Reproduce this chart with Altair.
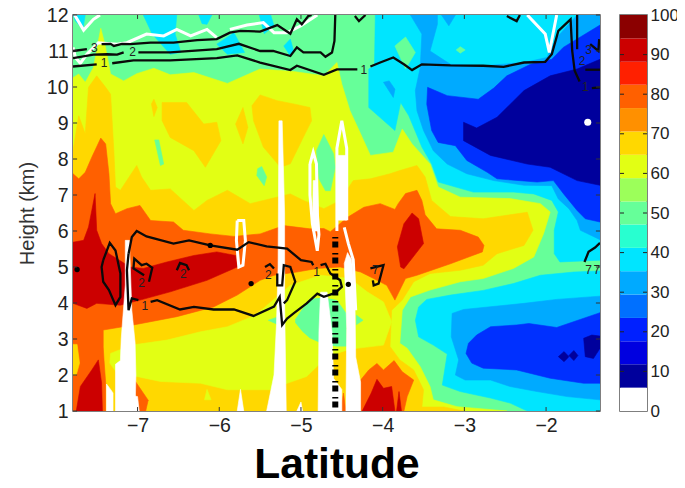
import altair as alt
import pandas as pd

LAT_MIN, LAT_MAX = -7.79, -1.34
H_MIN, H_MAX = 1, 12
LAT_TICKS = [-7, -6, -5, -4, -3, -2]
H_TICKS = list(range(1, 13))

C_RED = "#cc0000"; C_ORANGE = "#ff6000"; C_GOLD = "#ffd800"; C_YELLOW = "#e2ff14"
C_GREEN = "#66ff99"; C_CYAN = "#00e5ff"; C_SKY = "#00aaff"; C_BLUE = "#0030ff"; C_NAVY = "#00009c"

base = [(LAT_MIN, 1), (LAT_MAX, 1), (LAT_MAX, 12), (LAT_MIN, 12)]
cyan_upper = [(-4.09,12),(-4.10,10.59),(-4.17,10.5),(-4.17,9.43),(-3.85,8.79),(-3.78,9.57),(-3.68,9.2),(-3.52,8.33),(-3.40,7.86),(-3.32,7.36),(-2.89,7.08),(-2.4,7.08),(-2.15,7.03),(-1.93,6.85),(-1.85,6.53),(-1.90,6.02),(-1.90,5.37),(-1.83,5.14),(-1.34,5.19),(-1.34,12)]
cyan_lower = [(-1.34,4.89),(-1.66,4.86),(-2.07,4.77),(-2.4,4.54),(-2.77,4.35),(-3.17,4.22),(-3.46,4.1),(-3.56,3.89),(-3.60,3.52),(-3.56,3.06),(-3.38,2.83),(-3.21,2.58),(-3.27,1.72),(-3.05,1.54),(-2.68,1.36),(-2.44,1.22),(-2.23,1.0),(-1.34,1)]
sky_upper = [(-3.66,12),(-3.52,11.47),(-3.54,10.54),(-3.60,9.9),(-3.58,9.34),(-3.50,8.79),(-3.38,8.23),(-3.21,7.86),(-2.97,7.59),(-2.64,7.40),(-2.27,7.27),(-1.93,7.26),(-1.85,6.89),(-1.72,6.62),(-1.62,6.29),(-1.58,6.02),(-1.34,5.76),(-1.34,12),(-1.62,12),(-1.87,11.37),(-1.99,10.82),(-2.27,10.68),(-2.76,10.59),(-3.17,10.63),(-3.42,11.0),(-3.33,11.74),(-3.33,12)]
sky_top = [(-3.28,12),(-3.19,11.7),(-3.11,12)]
sky_blob = [(-3.99,10.13),(-3.92,10.17),(-3.85,9.94),(-3.87,9.71)]
green_blob_a = [(-3.85,11.14),(-3.72,11.39),(-3.6,10.96),(-3.72,10.5)]
green_blob_b = [(-3.10,11.03),(-3.05,11.12),(-2.99,11.03),(-3.05,10.94)]
blue_upper = [(-3.45,9.99),(-3.46,9.52),(-3.40,8.79),(-3.32,8.46),(-3.11,8.37),(-2.97,7.96),(-2.72,7.63),(-2.60,7.45),(-2.11,7.36),(-1.91,7.4),(-1.785,7.03),(-1.62,6.57),(-1.52,6.34),(-1.34,6.25),(-1.34,11.72),(-1.79,11.1),(-1.93,10.77),(-2.19,10.63),(-2.48,10.31),(-2.64,9.97),(-2.83,9.66),(-3.21,9.76)]
navy_upper = [(-3.01,9.02),(-3.01,8.51),(-2.68,8.1),(-2.23,7.86),(-1.95,7.77),(-1.62,7.4),(-1.34,7.27),(-1.34,10.77),(-1.62,10.5),(-1.95,10.31),(-2.27,9.9),(-2.48,9.43),(-2.6,9.16),(-2.85,8.86)]
sky_lower = [(-3.15,3.71),(-3.01,3.82),(-2.27,3.99),(-1.87,4.1),(-1.34,4.19),(-1.34,1.31),(-1.74,1.4),(-2.11,1.54),(-2.44,1.68),(-2.68,1.86),(-2.99,1.86),(-3.11,2.0),(-3.07,2.42),(-3.16,3.06)]
blue_lower = [(-2.95,2.88),(-2.85,3.11),(-2.68,3.34),(-2.36,3.39),(-2.21,3.43),(-1.87,3.32),(-1.34,3.73),(-1.34,1.77),(-1.54,1.77),(-1.95,1.91),(-2.36,2.14),(-2.77,2.19),(-2.91,2.33),(-2.98,2.6)]
navy_a = [(-1.85,2.51),(-1.78,2.65),(-1.72,2.51),(-1.78,2.37)]
navy_b = [(-1.72,2.54),(-1.66,2.68),(-1.61,2.54),(-1.66,2.4)]
navy_c = [(-1.54,3.02),(-1.44,3.11),(-1.34,3.08),(-1.34,2.74),(-1.42,2.46),(-1.52,2.51)]
cyan_a = [(-7.79,12),(-7.64,12),(-7.67,11.6),(-7.76,11.83)]
cyan_b = [(-6.93,12),(-6.52,12),(-6.54,11.47),(-6.47,10.96),(-6.6,10.91),(-6.82,11.47)]
cyan_c = [(-6.25,12),(-6.09,12),(-6.15,11.74),(-6.21,11.76)]
cyan_d = [(-6.03,11.19),(-5.82,11.51),(-5.69,10.96),(-5.9,10.91)]
cyan_e = [(-5.51,12),(-5.37,12),(-5.33,11.7),(-5.45,11.48)]
cyan_f = [(-5.21,11.14),(-5.13,11.33),(-5.09,11.0),(-5.13,10.86)]
yellow_main = [(-7.79,10.26),(-7.72,10.36),(-7.64,10.13),(-7.54,10.54),(-7.45,11.63),(-7.40,11.19),(-7.33,10.36),(-7.17,10.17),(-7.01,10.37),(-6.80,10.52),(-6.6,10.34),(-6.31,10.4),(-5.9,10.1),(-5.5,10.5),(-5.09,10.43),(-4.72,10.31),(-4.56,10.68),(-4.5,10.08),(-4.4,9.34),(-4.27,8.7),(-4.15,8.1),(-3.87,8.19),(-3.76,8.83),(-3.64,8.42),(-3.42,7.86),(-3.32,7.22),(-3.05,6.94),(-2.44,6.9),(-2.07,6.76),(-1.95,6.53),(-2.03,5.93),(-2.15,5.28),(-2.4,4.96),(-2.77,4.68),(-3.05,4.59),(-3.42,4.36),(-3.66,4.17),(-3.76,3.8),(-3.79,2.88),(-3.70,2.74),(-3.54,2.23),(-3.42,1.68),(-3.38,1.31),(-3.09,1.12),(-2.48,1.0),(-7.79,1)]
green_low_lat = [-5.07, -4.98, -4.89, -4.72, -4.56, -4.44]
green_low_top = [3.55, 3.85, 4.12, 4.15, 4.08, 3.7]
green_low_bottom = [3.45, 3.2, 3.02, 2.85, 2.79, 2.79]
green_low_b = [(-4.32,3.66),(-4.24,3.52),(-4.32,3.4)]
green_low_c = [(-5.4,3.52),(-5.3,3.6),(-5.3,3.42)]
green_a = [(-6.79,8.53),(-6.74,8.53),(-6.68,7.86),(-6.72,7.82)]
green_b = [(-5.53,7.73),(-5.48,7.79),(-5.42,7.5),(-5.45,7.26),(-5.54,7.54)]
green_c = [(-4.72,8.68),(-4.6,8.14),(-4.58,7.77),(-4.64,7.12),(-4.70,7.12),(-4.78,7.45),(-4.81,8.23)]
gold_main = [(-7.79,8.23),(-7.72,9.2),(-7.64,8.7),(-7.6,9.99),(-7.5,10.31),(-7.39,9.99),(-7.33,9.8),(-7.29,8.23),(-7.27,7.22),(-7.21,7.13),(-7.01,7.82),(-6.95,7.5),(-6.84,7.13),(-6.6,7.17),(-6.31,6.57),(-6.15,6.85),(-5.9,7.13),(-5.62,6.76),(-5.13,7.03),(-4.97,6.85),(-4.72,6.62),(-4.52,6.85),(-4.36,7.4),(-4.15,7.45),(-3.91,7.59),(-3.79,7.68),(-3.58,7.82),(-3.48,7.5),(-3.40,6.85),(-3.17,6.4),(-2.77,6.34),(-2.23,6.52),(-2.16,6.02),(-2.27,5.6),(-2.6,5.37),(-2.77,5.05),(-3.05,4.91),(-3.42,4.82),(-3.62,4.59),(-3.76,4.08),(-3.89,3.8),(-3.91,2.79),(-3.79,2.42),(-3.62,2.14),(-3.5,1.59),(-3.52,1.11),(-3.25,1.11),(-3.01,1.0),(-7.79,1)]
gold_a = [(-6.7,9.57),(-6.4,9.57),(-6.19,8.97),(-6.03,9.02),(-5.98,8.51),(-6.17,7.77),(-6.31,8.23),(-6.6,8.6),(-6.7,9.07)]
gold_b = [(-6.83,9.53),(-6.8,9.66),(-6.76,9.43),(-6.8,9.18)]
gold_c = [(-5.8,8.97),(-5.71,9.43),(-5.65,8.88),(-5.71,8.42)]
gold_d = [(-5.6,9.48),(-5.5,9.78),(-5.29,9.62),(-5.09,9.53),(-4.89,9.43),(-4.87,9.06),(-4.95,8.7),(-5.13,7.87),(-5.25,7.77),(-5.46,8.33),(-5.58,9.06)]
yellow_inner = [(-7.33,2.6),(-7.07,2.83),(-6.64,2.97),(-6.23,3.2),(-5.9,3.34),(-5.6,3.62),(-5.46,3.85),(-5.13,4.49),(-4.76,4.77),(-4.56,4.72),(-4.4,4.68),(-4.19,4.31),(-3.99,4.03),(-3.89,3.48),(-3.99,2.83),(-4.32,2.74),(-4.44,2.69),(-4.68,2.51),(-4.93,1.96),(-5.17,1.77),(-5.38,1.59),(-5.9,1.59),(-6.23,1.77),(-6.72,1.82),(-7.01,1.96),(-7.25,2.05),(-7.34,2.33)]
yellow_small = [(-6.15,1.6),(-6.18,1.31),(-6.10,1.31)]
orange_main = [(-7.79,7.59),(-7.72,7.45),(-7.64,7.63),(-7.56,8.05),(-7.45,8.58),(-7.39,8.42),(-7.35,7.59),(-7.33,6.76),(-7.27,6.48),(-7.13,6.62),(-6.97,6.71),(-6.84,6.29),(-6.56,6.25),(-6.44,6.02),(-6.11,5.92),(-5.82,5.85),(-5.5,5.92),(-5.21,6.15),(-4.89,6.06),(-4.72,6.07),(-4.64,5.98),(-4.43,6.38),(-4.23,6.66),(-4.03,6.76),(-3.85,6.6),(-3.81,6.76),(-3.72,7.04),(-3.58,7.13),(-3.52,6.85),(-3.48,6.45),(-3.34,6.06),(-3.05,6.02),(-2.83,5.83),(-2.76,5.6),(-2.78,5.42),(-3.17,5.09),(-3.58,4.77),(-3.72,4.68),(-3.85,4.08),(-3.95,4.49),(-4.11,4.68),(-4.27,4.86),(-4.52,5.0),(-4.8,4.96),(-5.05,4.86),(-5.33,4.77),(-5.5,4.63),(-5.78,4.22),(-6.07,3.89),(-6.52,3.62),(-7.05,3.39),(-7.42,3.25),(-7.42,2.78),(-7.41,2.4),(-7.39,1.78),(-7.39,1),(-7.79,1)]
orange_patch = [(-7.05,1.9),(-6.87,1.3),(-6.9,1.0),(-7.1,1.0)]
orange_bottom = [(-4.27,1.0),(-4.27,1.86),(-4.17,2.14),(-4.07,2.32),(-3.99,2.14),(-3.86,2.4),(-3.76,2.09),(-3.62,1.86),(-3.70,1.4),(-3.74,1.0)]
orange_sliver = [(-4.52,1),(-4.48,1.5),(-4.45,1)]
gold_patch = [(-7.79,2.85),(-7.74,2.85),(-7.71,2.33),(-7.75,2.0),(-7.79,2.0)]
red_left = [(-7.79,5.69),(-7.66,5.74),(-7.6,6.11),(-7.56,6.57),(-7.52,7.04),(-7.5,6.02),(-7.44,5.65),(-7.35,5.37),(-7.09,5.0),(-6.93,4.96),(-6.64,5.14),(-6.31,5.32),(-6.03,5.42),(-5.8,5.32),(-5.78,5.0),(-6.15,4.63),(-6.6,4.31),(-6.97,4.08),(-7.21,3.94),(-7.5,3.99),(-7.62,3.85),(-7.79,3.99)]
red_right = [(-3.64,6.5),(-3.56,6.34),(-3.5,5.65),(-3.74,4.95),(-3.78,5.0),(-3.82,5.56),(-3.74,6.2)]
red_bl = [(-7.75,1),(-7.7,1.68),(-7.56,2.14),(-7.48,2.42),(-7.44,1.78),(-7.43,1)]
red_br = [(-4.25,1.0),(-4.14,1.5),(-4.07,1.88),(-3.99,1.63),(-3.89,1.68),(-3.85,1.0)]
red_br2 = [(-3.83,1),(-3.80,1.54),(-3.77,1)]

white_a = [(-7.15,5.74),(-7.1,5.74),(-7.07,3.8),(-7.03,2.9),(-7.02,2.0),(-7.03,1),(-7.27,1),(-7.27,2.3),(-7.21,2.4),(-7.2,3.0),(-7.15,4.5)]
white_b = [(-7.05,1),(-7.04,1.42),(-7.0,1.4),(-6.98,1)]
white_c = [(-7.38,1),(-7.38,1.75),(-7.33,1.6),(-7.3,1.5),(-7.3,1)]
white_d = [(-5.27,9.06),(-5.23,9.06),(-5.2,6.5),(-5.2,4.0),(-5.18,1),(-5.42,1),(-5.33,2.0),(-5.3,3.4),(-5.28,5)]
white_e = [(-5.78,1),(-5.74,1.6),(-5.7,1)]
white_f = [(-5.05,1),(-5.0,1.25),(-4.98,1)]
white_g = [(-4.76,4.3),(-4.68,4.3),(-4.62,3.2),(-4.6,1.9),(-4.5,1.6),(-4.5,1),(-4.79,1),(-4.78,3.2)]
white_h = [(-4.47,5.1),(-4.43,5.4),(-4.38,5.2),(-4.34,4.2),(-4.33,2.5),(-4.27,1.8),(-4.27,1),(-4.45,1),(-4.44,3.3),(-4.45,4)]
white_i = [(-4.56,8.1),(-4.44,8.1),(-4.44,6.3),(-4.56,6.3)]
white_j = [(-4.85,7.4),(-4.8,7.4),(-4.78,6.0),(-4.86,6.0)]

white_loop_a = [(-5.78,6.29),(-5.7,6.29),(-5.68,5.74),(-5.71,5.05),(-5.76,5.0),(-5.79,5.74),(-5.78,6.29)]
white_loop_b = [(-4.89,7.86),(-4.85,8.19),(-4.81,7.86),(-4.8,6.5),(-4.78,5.9),(-4.8,5.45),(-4.86,6.2),(-4.89,7.0),(-4.89,7.86)]
white_loop_c = [(-4.56,6.0),(-4.56,8.3),(-4.5,9.06),(-4.44,8.3),(-4.44,6.3)]
white_loop_e = [(-4.47,6.1),(-4.42,5.65),(-4.36,5.2),(-4.33,3.8)]
white_top_a = [(-7.79,11.1),(-7.76,10.82),(-7.7,10.66),(-7.62,10.91),(-7.48,11.23),(-7.25,11.19),(-7.13,11.23),(-6.89,11.47),(-6.68,11.42),(-6.52,11.6),(-6.35,11.42),(-6.15,11.6),(-6.03,11.37)]
white_top_b = [(-5.87,11.6),(-5.66,11.72),(-5.46,11.79),(-5.33,11.51),(-5.17,11.51),(-5.0,11.7),(-4.8,12)]
white_top_c = [(-7.77,12),(-7.66,11.58),(-7.54,11.88),(-7.46,12)]
white_v = [(-2.23,12),(-2.01,11.47),(-1.96,10.96),(-1.87,12)]

c3_a = [(-7.79,11.0),(-7.62,11.05)]
c3_b = [(-7.44,11.19),(-7.33,11.2),(-7.29,11.14),(-7.19,11.2),(-7.09,11.19),(-6.84,11.23),(-6.56,11.23),(-6.27,11.3),(-6.03,11.33),(-5.87,11.51),(-5.74,11.56),(-5.5,11.54),(-5.29,11.72),(-5.13,11.48),(-5.05,11.88),(-4.99,11.74),(-4.91,11.97),(-4.87,12)]
c2_a = [(-7.79,10.8),(-7.54,10.9),(-7.37,10.91),(-7.25,10.9),(-7.17,10.96)]
c2_b = [(-6.99,10.96),(-6.6,10.96),(-6.03,11.05),(-5.76,11.2),(-5.5,11.0),(-5.34,11.0),(-5.13,10.86),(-5.05,11.1),(-4.97,10.96),(-4.76,10.96),(-4.7,10.84),(-4.62,10.96),(-4.59,11.28),(-4.58,12)]
c1_a = [(-7.79,10.57),(-7.5,10.63)]
c1_b = [(-7.31,10.66),(-7.05,10.74),(-6.6,10.74),(-6.03,10.8),(-5.78,10.88),(-5.5,10.68),(-5.13,10.47),(-5.05,10.59),(-4.72,10.34),(-4.56,10.49),(-4.31,10.49)]
c1_c = [(-4.15,10.57),(-4.03,10.68),(-3.87,10.82),(-3.74,10.63),(-3.64,10.47),(-3.52,10.63),(-3.17,10.6),(-2.77,10.59),(-2.52,10.56),(-2.27,10.68),(-2.01,10.7),(-1.93,10.91),(-1.85,11.56),(-1.7,11.88),(-1.68,11.0),(-1.65,10.45),(-1.59,10.15)]
c_vert = [(-1.62,12),(-1.62,11.05)]
c_tail_a = [(-1.52,10.48),(-1.34,10.48)]
c_tail_b = [(-1.44,9.97),(-1.34,9.99)]
c_tail_c = [(-1.46,11.19),(-1.36,11.0),(-1.35,11.33)]
c_top_a = [(-4.34,11.97),(-4.29,11.83),(-4.21,12)]
c_top_b = [(-2.48,11.97),(-2.36,11.83),(-2.32,12)]
low_a = [(-7.11,5.37),(-7.07,5.83),(-7.01,6.0),(-6.89,5.85),(-6.56,5.65),(-6.37,5.74),(-6.11,5.6),(-5.78,5.48),(-5.64,5.69),(-5.42,5.57),(-5.17,5.51),(-5.0,5.19),(-4.87,5.14),(-4.85,5.05)]
low_b = [(-4.76,5.05),(-4.7,5.09),(-4.64,4.82),(-4.52,4.63),(-4.5,4.45),(-4.58,4.28),(-4.72,4.17),(-4.8,4.26),(-4.93,3.99),(-5.09,3.71),(-5.17,3.57),(-5.23,3.39),(-5.26,4.17),(-5.33,3.9),(-5.58,3.64),(-5.82,3.82),(-6.07,3.82),(-6.31,3.89),(-6.48,3.82),(-6.76,4.08),(-6.84,4.03)]
low_c = [(-6.99,4.08),(-7.07,4.13),(-7.11,3.8),(-7.13,4.91),(-7.11,5.37)]
low_loop = [(-7.42,5.19),(-7.34,5.67),(-7.27,5.46),(-7.21,4.82),(-7.21,4.17),(-7.27,3.94),(-7.35,4.36),(-7.42,4.59),(-7.44,5.0),(-7.42,5.19)]
two_a = [(-6.92,4.77),(-7.05,4.96),(-7.04,5.23),(-6.95,5.05),(-6.89,5.09),(-6.82,4.98),(-6.86,4.59)]
two_b = [(-6.52,4.91),(-6.48,5.11),(-6.4,5.05),(-6.37,4.91)]
two_c = [(-5.29,4.82),(-5.29,4.49),(-5.23,4.49),(-5.21,5.05),(-5.13,5.0),(-5.07,4.59),(-5.17,4.08),(-5.21,3.99)]
two_d = [(-5.44,5.0),(-5.38,5.08),(-5.33,4.96)]
hook = [(-4.15,4.96),(-3.99,5.05),(-4.05,4.54),(-4.11,4.49),(-4.12,4.63)]
right_tail = [(-1.53,5.14),(-1.48,5.42),(-1.4,5.54),(-1.34,5.67)]

dot_lat = [-7.74, -5.61, -4.42, -6.11]
dot_h = [4.93, 4.54, 4.52, 5.6]
label_text = ["3","2","1","1","1","2","2","2","1","7","7","7","3","2","1"]
label_lat = [-7.53,-7.06,-7.41,-4.23,-6.91,-6.95,-6.44,-5.4,-4.81,-4.09,-1.48,-1.38,-1.48,-1.56,-1.52]
label_h = [11.08,10.96,10.66,10.48,3.91,4.56,4.8,4.77,4.86,4.93,4.91,4.91,11.02,10.73,10.0]

CB_EDGES = [0,5.9,11.8,17.6,23.5,29.4,35.3,41.2,47.1,52.9,58.8,64.7,70.6,76.5,82.4,88.2,94.1,100]
CB_COLORS = ["#ffffff","#00009c","#0000e0","#0020ff","#0070ff","#00aaff","#00e5ff","#28ffd0","#66ff99","#9cff5a","#e2ff14","#ffd800","#ff9000","#ff6000","#ff2000","#cc0000","#8b0000"]
CB_TICKS = [0,10,20,30,40,50,60,70,80,90,100]

FILLS_LOW = [
    (base,C_GREEN),(cyan_upper,C_CYAN),(cyan_lower,C_CYAN),(sky_upper,C_SKY),(sky_top,C_SKY),(sky_blob,C_SKY),
    (green_blob_a,C_GREEN),(green_blob_b,C_GREEN),(blue_upper,C_BLUE),(navy_upper,C_NAVY),(sky_lower,C_SKY),(blue_lower,C_BLUE),
    (navy_a,C_NAVY),(navy_b,C_NAVY),(navy_c,C_NAVY),(cyan_a,C_CYAN),(cyan_b,C_CYAN),(cyan_c,C_CYAN),(cyan_d,C_CYAN),(cyan_e,C_CYAN),(cyan_f,C_CYAN),
    (yellow_main,C_YELLOW),(green_a,C_GREEN),(green_b,C_GREEN),(green_c,C_GREEN),
    (gold_main,C_GOLD),(gold_a,C_GOLD),(gold_b,C_GOLD),(gold_c,C_GOLD),(gold_d,C_GOLD),
    (yellow_inner,C_YELLOW),(yellow_small,C_YELLOW),
    (orange_main,C_ORANGE),(orange_patch,C_ORANGE),(orange_bottom,C_ORANGE),(orange_sliver,C_ORANGE),(gold_patch,C_GOLD),
    (red_left,C_RED),(red_right,C_RED),(red_bl,C_RED),(red_br,C_RED),(red_br2,C_RED),
    (green_low_b,C_GREEN),(green_low_c,C_GREEN),
]
FILLS_HIGH = [(white_a,"#ffffff"),(white_b,"#ffffff"),(white_c,"#ffffff"),(white_d,"#ffffff"),(white_e,"#ffffff"),(white_f,"#ffffff"),(white_g,"#ffffff"),(white_h,"#ffffff"),(white_i,"#ffffff"),(white_j,"#ffffff")]
WHITE_LINES = [white_loop_a,white_loop_b,white_loop_c,white_loop_e,white_top_a,white_top_b,white_top_c,white_v]
BLACK_LINES = [c3_a,c3_b,c2_a,c2_b,c1_a,c1_b,c1_c,c_vert,c_tail_a,c_tail_b,c_tail_c,c_top_a,c_top_b,low_a,low_b,low_c,low_loop,two_a,two_b,two_c,two_d,hook,right_tail]

FONT = "Liberation Sans"
x_scale = alt.Scale(domain=[LAT_MIN, LAT_MAX], nice=False, zero=False)
y_scale = alt.Scale(domain=[H_MIN, H_MAX], nice=False, zero=False)
x_axis = alt.Axis(values=LAT_TICKS, tickSize=0, domain=False, grid=False, labelFontSize=19.5, labelFont=FONT,
                  labelColor="#222222", labelPadding=5, titleFont=FONT, titleFontSize=42.5, titleFontWeight="bold",
                  titleColor="#000000", titlePadding=9)
y_axis = alt.Axis(values=H_TICKS, tickSize=0, domain=False, grid=False, labelFontSize=19.5, labelFont=FONT,
                  labelColor="#222222", labelPadding=5, titleFont=FONT, titleFontSize=20, titleFontWeight="normal",
                  titleColor="#333333", titlePadding=9)
X = alt.X("lat:Q", scale=x_scale, axis=x_axis, title="Latitude")
Y = alt.Y("h:Q", scale=y_scale, axis=y_axis, title="Height (km)")

def frame(pts):
    return pd.DataFrame({"lat": [p[0] for p in pts], "h": [p[1] for p in pts], "i": range(len(pts))})

def fill_layer(pts, col):
    return alt.Chart(frame(pts)).mark_line(fill=col, stroke=col, strokeWidth=0.6, clip=True, interpolate="linear-closed").encode(
        x=X, y=Y, order="i:Q")

layers = [fill_layer(p, c) for p, c in FILLS_LOW]
layers.append(alt.Chart(pd.DataFrame({"lat": green_low_lat, "h": green_low_top, "h2": green_low_bottom})).mark_area(
    color=C_GREEN, clip=True, opacity=1, orient="vertical").encode(x=X, y=Y, y2="h2:Q"))
layers += [fill_layer(p, c) for p, c in FILLS_HIGH]
for pts in WHITE_LINES:
    layers.append(alt.Chart(frame(pts)).mark_line(color="#ffffff", strokeWidth=3, clip=True).encode(x=X, y=Y, order="i:Q"))
for pts in BLACK_LINES:
    layers.append(alt.Chart(frame(pts)).mark_line(color="#0a0a0a", strokeWidth=2.3, clip=True).encode(x=X, y=Y, order="i:Q"))

layers.append(alt.Chart(pd.DataFrame({"lat": dot_lat, "h": dot_h})).mark_circle(color="#000000", size=28, opacity=1).encode(x=X, y=Y))
layers.append(alt.Chart(pd.DataFrame({"lat": [-1.49], "h": [9.02]})).mark_circle(color="#ffffff", size=50, opacity=1).encode(x=X, y=Y))
layers.append(alt.Chart(pd.DataFrame({"lat": label_lat, "h": label_h, "t": label_text})).mark_text(
    font=FONT, fontSize=12, color="#222222").encode(x=X, y=Y, text="t:N"))

# thick dash-dot vertical line
dash = pd.DataFrame({"lat": [-4.58], "h": [1.1], "h2": [5.88]})
layers.append(alt.Chart(dash).mark_rule(color="#000000", strokeWidth=6, strokeDash=[6, 10]).encode(x=X, y=Y, y2="h2:Q"))
layers.append(alt.Chart(dash).mark_rule(color="#000000", strokeWidth=6, strokeDash=[1.5, 14.5], strokeDashOffset=-9).encode(x=X, y=Y, y2="h2:Q"))

# inward ticks on all four sides
XT = 0.11; YT = 0.05
for lo, hi in [(H_MIN, H_MIN + XT), (H_MAX - XT, H_MAX)]:
    d = pd.DataFrame({"lat": LAT_TICKS, "h": [lo] * len(LAT_TICKS), "h2": [hi] * len(LAT_TICKS)})
    layers.append(alt.Chart(d).mark_rule(color="#333333", strokeWidth=1).encode(x=X, y=Y, y2="h2:Q"))
for lo, hi in [(LAT_MIN, LAT_MIN + YT), (LAT_MAX - YT, LAT_MAX)]:
    d = pd.DataFrame({"lat": [lo] * len(H_TICKS), "lat2": [hi] * len(H_TICKS), "h": H_TICKS})
    layers.append(alt.Chart(d).mark_rule(color="#333333", strokeWidth=1).encode(x=X, x2="lat2:Q", y=Y))

main = alt.layer(*layers).properties(width=527, height=396)

cb_df = pd.DataFrame({"lo": CB_EDGES[:-1], "hi": CB_EDGES[1:], "c": CB_COLORS})
cb_scale = alt.Scale(domain=[0, 100], nice=False, zero=False)
cb_axis = alt.Axis(orient="right", values=CB_TICKS, tickSize=0, domain=False, grid=False, labelFontSize=17,
                   labelFont=FONT, labelColor="#222222", labelPadding=3, labelFlush=False)
cb_rect = alt.Chart(cb_df).mark_rect().encode(
    y=alt.Y("lo:Q", scale=cb_scale, title=None, axis=cb_axis), y2="hi:Q", x=alt.value(0), x2=alt.value(27),
    color=alt.Color("c:N", scale=None, legend=None))
tick_df = pd.DataFrame({"v": CB_TICKS[1:-1]})
tick_y = alt.Y("v:Q", scale=cb_scale, title=None, axis=cb_axis)
cb_t1 = alt.Chart(tick_df).mark_rule(color="#222222", strokeWidth=1).encode(y=tick_y, x=alt.value(0), x2=alt.value(4))
cb_t2 = alt.Chart(tick_df).mark_rule(color="#222222", strokeWidth=1).encode(y=tick_y, x=alt.value(23), x2=alt.value(27))
colorbar = alt.layer(cb_rect, cb_t1, cb_t2).properties(width=27, height=396)

chart = alt.hconcat(main, colorbar, spacing=16).properties(
    autosize="none",
    padding={"left": 65, "top": 7, "right": 604, "bottom": 465},
    background="#ffffff",
).configure_view(stroke="#555555", strokeWidth=1.5)

chart.save("out.html", embed_options={"renderer": "svg", "actions": False})
